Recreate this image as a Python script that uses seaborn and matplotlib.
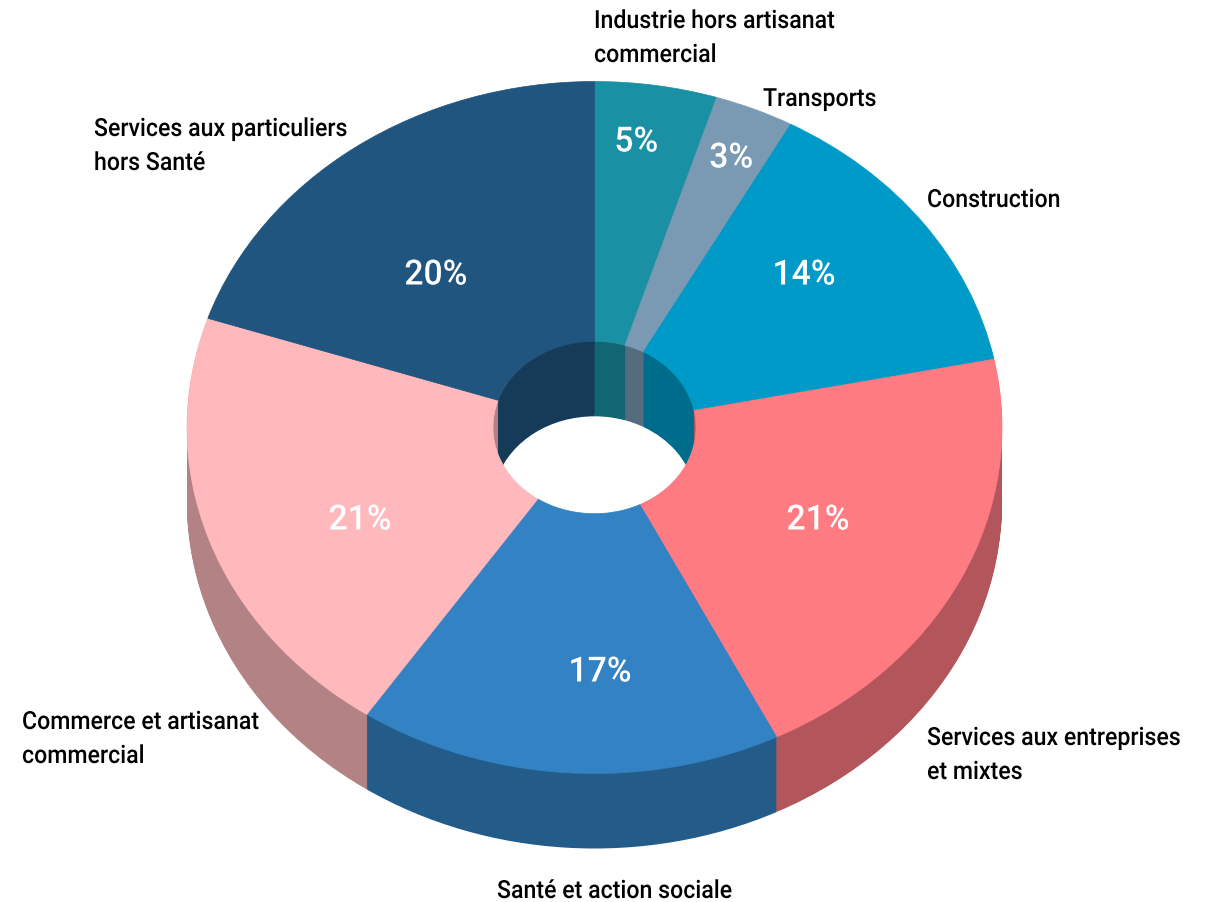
import numpy as np
import matplotlib
matplotlib.use('Agg')
import matplotlib.pyplot as plt
import matplotlib.patheffects as pe
from matplotlib.transforms import Affine2D
import seaborn as sn

sectors = ['Industrie hors artisanat\ncommercial', 'Transports', 'Construction',
           'Services aux entreprises\net mixtes', 'Santé et action sociale',
           'Commerce et artisanat\ncommercial', 'Services aux particuliers\nhors Santé']
shares = [4.85, 3.15, 13.85, 20.8, 16.82, 20.68, 19.9]
pct_labels = ['5%', '3%', '14%', '21%', '17%', '21%', '20%']
hex_colors = ['#1A90A4', '#7A9AB4', '#009AC8', '#FF7B82', '#3282C4', '#FFB9BD', '#20557F']

sn.set_theme(style='white')
plt.rcParams['font.family'] = ['Roboto', 'DejaVu Sans']

W, H = 1208, 903
CX, CY = 594.5, 428.5    # centre of the top face, in pixels
RX, RY = 407.5, 346      # outer radii of the top face
HOLE = 101.5 / RX
DEPTH = 75


class Narrow(pe.AbstractPathEffect):
    # the reference font is a bit narrower than Roboto
    def __init__(self, factor):
        super().__init__()
        self.factor = factor

    def draw_path(self, renderer, gc, tpath, affine, rgbFace=None):
        renderer.draw_path(gc, tpath, Affine2D().scale(self.factor, 1) + affine, rgbFace)


top_colors = sn.color_palette(hex_colors)
wall_colors = [tuple(0.7 * c for c in col) for col in top_colors]

fig = plt.figure(figsize=(W / 100, H / 100), dpi=100)
ax = fig.add_axes([0, 0, 1, 1])

# side walls: the same ring stacked pixel by pixel, from the bottom up
for d in range(DEPTH, 0, -1):
    ax.pie(shares, colors=wall_colors, startangle=90, counterclock=False,
           center=(0, -d / RY), wedgeprops=dict(width=1 - HOLE, linewidth=0))

wedges, _ = ax.pie(shares, colors=top_colors, startangle=90, counterclock=False,
                   wedgeprops=dict(width=1 - HOLE, linewidth=0.5))
for w, col in zip(wedges, top_colors):
    w.set_edgecolor(col)

# the pie is squashed by giving x and y different scales
ax.set_aspect('auto')
ax.set_xlim(-CX / RX, (W - CX) / RX)
ax.set_ylim(-(H - CY) / RY, CY / RY)


def put(x, y, s, **kw):
    fig.text(x / W, 1 - y / H, s, **kw)


# percent labels
pct_pos = [(637, 143), (732, 159), (805, 276), (819, 521), (601, 673), (361, 521), (437, 276)]
for (x, y), s in zip(pct_pos, pct_labels):
    put(x, y, s, color='white', fontsize=25, fontweight='medium', ha='center', va='center',
        path_effects=[Narrow(0.97)])

# sector names, one text per line
name_pos = [(594, 29), (763, 107), (927, 208), (927, 746), (497, 899), (22, 730), (94, 137)]
for (x, y), name in zip(name_pos, sectors):
    for i, line in enumerate(name.split('\n')):
        put(x, y + i * 34, line, color='black', fontsize=18, fontweight='medium',
            ha='left', va='baseline', path_effects=[Narrow(0.925)])

fig.savefig('out.png', dpi=100, facecolor='white')
